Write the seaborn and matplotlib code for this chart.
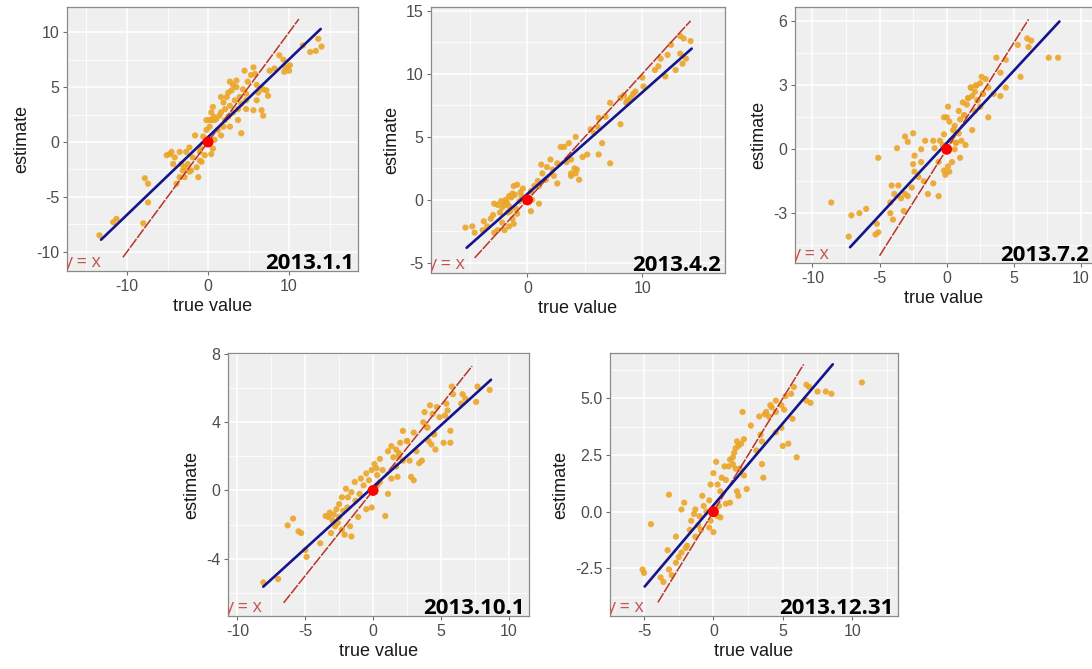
import matplotlib
matplotlib.use("Agg")
import matplotlib.pyplot as plt
import matplotlib.transforms as mtransforms
from matplotlib.ticker import MultipleLocator, FormatStrFormatter
import numpy as np
import pandas as pd
import seaborn as sns

# ---------------------------------------------------------------- data
dates = ["2013.1.1", "2013.4.2", "2013.7.2", "2013.10.1", "2013.12.31"]

true_0101 = [-13.4, -11.7, -11.3, -8.0, -7.8, -7.4, -7.4, -5.1, -4.7, -4.5, -4.3, -4.1, -3.9, -3.5,
             -3.5, -3.3, -3.1, -2.9, -2.9, -2.7, -2.5, -2.3, -2.3, -2.1, -1.9, -1.6, -1.4, -1.2,
             -1.0, -1.0, -1.0, -0.8, -0.6, -0.4, -0.2, -0.2, 0.2, 0.2, 0.4, 0.4, 0.4, 0.6, 0.6,
             0.7, 0.8, 0.8, 1.0, 1.2, 1.4, 1.6, 1.6, 1.6, 1.9, 1.9, 2.1, 2.1, 2.3, 2.5, 2.5, 2.7,
             2.7, 2.7, 2.9, 3.1, 3.1, 3.3, 3.5, 3.5, 3.7, 3.7, 3.9, 4.1, 4.1, 4.3, 4.5, 4.7, 4.7,
             4.7, 4.9, 5.3, 5.6, 5.6, 5.8, 6.0, 6.0, 6.2, 6.6, 6.8, 6.8, 7.2, 7.4, 7.6, 8.2, 8.8,
             9.3, 9.4, 9.6, 10.0, 10.1, 11.7, 12.6, 13.3, 13.6, 14.0]
est_0101 = [-8.5, -7.3, -7.0, -7.4, -3.3, -3.8, -5.5, -1.2, -1.1, -0.9, -2.0, -1.4, -3.8, -0.9,
            -3.2, -2.0, -2.6, -3.2, -2.3, -0.9, -2.0, -0.5, -2.7, -2.6, -1.4, 0.6, -2.3, -3.2,
            -0.5, -1.7, -0.9, -1.8, 0.5, -1.2, 1.1, 2.0, 1.4, 2.0, 2.7, -1.1, 2.0, 3.2, -0.6,
            2.3, 2.0, 0.2, 2.1, 1.1, 2.4, 2.7, 0.6, 4.1, 3.6, 1.4, 3.0, 2.0, 4.1, 2.3, 4.5, 5.5,
            1.4, 3.3, 4.7, 5.2, 2.7, 3.8, 5.6, 5.0, 3.0, 2.0, 4.1, 0.8, 3.5, 4.8, 6.5, 3.0, 4.4,
            3.8, 5.5, 6.1, 6.8, 2.9, 6.2, 5.2, 3.8, 4.5, 2.9, 4.8, 2.4, 4.7, 4.2, 6.5, 6.7, 7.9,
            7.5, 6.4, 6.8, 6.5, 7.0, 8.8, 8.2, 8.3, 9.4, 8.7]

true_0402 = [-5.4, -4.8, -4.6, -3.9, -3.8, -3.5, -3.2, -3.0, -2.9, -2.9, -2.6, -2.6, -2.4, -2.3,
             -2.2, -2.2, -2.0, -2.0, -1.9, -1.8, -1.7, -1.6, -1.6, -1.6, -1.5, -1.4, -1.3, -1.3,
             -1.2, -1.2, -1.1, -1.0, -0.9, -0.9, -0.7, -0.6, -0.5, -0.4, 0.3, 0.3, 0.4, 0.6, 0.9,
             1.0, 1.0, 1.2, 1.3, 1.6, 1.7, 2.0, 2.2, 2.3, 2.6, 2.6, 2.9, 3.2, 3.4, 3.6, 3.8, 3.8,
             3.8, 4.1, 4.2, 4.2, 4.3, 4.5, 4.8, 5.2, 5.5, 5.8, 6.1, 6.2, 6.2, 6.5, 6.8, 7.2, 7.2,
             8.1, 8.1, 8.4, 8.6, 8.7, 9.0, 9.2, 9.4, 10.0, 10.1, 11.1, 11.4, 11.6, 12.0, 12.2,
             12.5, 12.9, 13.3, 13.3, 13.5, 13.6, 13.8, 14.2]
est_0402 = [-2.2, -2.1, -2.6, -2.4, -1.7, -2.1, -1.5, -1.2, -2.6, -0.3, -2.4, -0.4, -1.0, -0.1,
            -0.6, -1.8, -2.4, -0.4, 0.0, -0.2, -1.0, -2.1, 0.3, -0.5, -0.9, 0.2, 0.5, -1.5,
            1.1, -1.9, 0.4, -0.7, 1.2, -1.1, -0.1, 0.6, 0.3, 0.9, 0.7, -0.9, 0.0, 1.1, 1.5,
            1.1, -0.3, 2.8, 2.1, 1.6, 2.6, 3.2, 2.4, 1.9, 2.9, 1.3, 4.2, 4.2, 3.0, 4.5, 3.2, 2.1,
            1.9, 2.5, 5.0, 2.1, 2.4, 1.6, 3.4, 3.6, 5.6, 5.3, 5.8, 6.5, 3.6, 4.5, 6.6, 7.7, 2.9,
            8.1, 6.0, 8.3, 7.7, 7.9, 8.1, 8.4, 8.6, 9.7, 9.0, 10.3, 10.6, 11.2, 9.8, 11.5,
            12.3, 10.3, 13.0, 11.6, 10.8, 12.8, 11.2, 12.6]

true_0702 = [-8.6, -7.3, -7.1, -6.5, -6.0, -5.3, -5.2, -5.1, -5.1, -4.2, -4.2, -4.1, -4.0, -3.9,
             -3.7, -3.6, -3.4, -3.2, -3.1, -3.1, -2.9, -2.9, -2.6, -2.5, -2.5, -2.4, -2.4, -2.1,
             -1.9, -1.9, -1.7, -1.6, -1.4, -1.0, -1.0, -0.9, -0.6, -0.6, -0.5, -0.3, -0.2, -0.2,
             -0.2, -0.1, 0.0, 0.1, 0.1, 0.2, 0.2, 0.3, 0.4, 0.5, 0.5, 0.6, 0.6, 0.7, 0.7, 0.9,
             0.9, 1.0, 1.0, 1.1, 1.2, 1.3, 1.3, 1.4, 1.5, 1.6, 1.6, 1.8, 1.8, 1.9, 1.9, 2.1, 2.1,
             2.2, 2.2, 2.3, 2.3, 2.5, 2.5, 2.6, 2.7, 2.7, 2.9, 3.1, 3.1, 3.5, 3.7, 4.0, 4.0, 4.4,
             4.4, 5.3, 5.5, 6.0, 6.1, 6.3, 7.6, 8.3]
est_0702 = [-2.5, -4.1, -3.1, -3.0, -2.8, -4.0, -3.5, -3.9, -0.4, -2.5, -3.0, -1.7, -3.3, -2.1,
            0.05, -1.7, -2.3, -2.9, 0.6, -2.1, 0.35, -2.2, -1.8, 0.75, -0.7, -0.3, -1.05, -1.3,
            0.0, -0.6, -1.5, 0.4, -2.1, 0.4, -1.6, 0.05, -0.6, -2.2, 0.4, 0.2, 0.7, 1.5, -1.0,
            -1.2, 1.5, 2.0, -0.8, 1.3, -1.05, 0.4, -0.6, 0.9, 0.9, 1.1, 0.0, 0.3, 0.3, 0.75,
            1.8, -0.4, 1.4, 0.4, 2.2, 1.6, 1.6, 0.2, 2.1, 2.4, 2.4, 2.9, 2.9, 2.5, 0.9, 2.7, 1.8,
            3.0, 3.0, 2.3, 2.3, 3.1, 2.0, 3.4, 2.6, 2.6, 3.3, 2.9, 1.5, 2.6, 4.3, 2.5, 3.6, 4.2,
            2.9, 4.9, 3.4, 5.2, 4.8, 5.1, 4.3, 4.3]

true_1001 = [-8.1, -7.0, -6.3, -5.9, -5.5, -5.3, -5.0, -4.9, -3.9, -3.5, -3.3, -3.2, -3.1, -3.0,
             -2.9, -2.8, -2.7, -2.6, -2.5, -2.5, -2.3, -2.3, -2.2, -2.1, -2.0, -1.9, -1.85, -1.7,
             -1.6, -1.6, -1.35, -1.3, -1.1, -1.0, -0.9, -0.7, -0.5, -0.5, -0.3, -0.1, -0.1, 0.1,
             0.25, 0.3, 0.3, 0.5, 0.5, 0.7, 0.9, 1.1, 1.1, 1.35, 1.35, 1.5, 1.7, 1.7, 1.8, 1.9,
             1.9, 2.0, 2.2, 2.2, 2.5, 2.5, 2.7, 2.8, 3.0, 3.0, 3.2, 3.4, 3.6, 3.7, 3.8, 4.0, 4.0,
             4.1, 4.2, 4.3, 4.4, 4.5, 4.5, 4.6, 4.7, 4.9, 5.2, 5.3, 5.4, 5.5, 5.7, 5.7, 5.8, 5.9,
             6.5, 6.6, 6.8, 7.6, 7.7, 8.6]
est_1001 = [-5.4, -5.2, -2.05, -1.65, -2.4, -2.5, -3.5, -3.9, -3.1, -1.5, -1.55, -1.3, -2.5, -1.75,
            -1.4, -2.1, -1.1, -1.9, -0.8, -1.55, -0.4, -2.3, -1.2, -2.6, 0.1, -1.0, -0.4, -2.1,
            -0.1, -2.7, 0.5, -0.6, -1.55, -0.2, 0.7, 0.3, 1.0, -1.1, 0.6, 1.2, -1.0, 1.55,
            1.3, 0.9, 0.3, 1.85, 0.5, 1.2, -1.5, 2.3, -0.2, 2.6, 0.7, 1.95, 2.4, 1.4, 0.8, 2.0,
            2.2, 2.8, 3.5, 1.75, 2.9, 2.9, 1.75, 0.8, 3.4, 0.6, 2.3, 1.6, 1.75, 4.0, 4.6, 3.7,
            3.7, 2.9, 5.0, 2.7, 4.5, 3.3, 3.3, 2.4, 4.9, 4.3, 2.8, 4.4, 5.1, 4.7, 3.5, 2.8, 6.1,
            5.65, 5.1, 5.65, 5.4, 5.2, 6.1, 5.9]

true_1231 = [-5.1, -5.0, -4.5, -3.8, -3.6, -3.3, -3.2, -3.2, -3.0, -2.7, -2.7, -2.5, -2.3, -2.3,
             -2.1, -2.0, -1.9, -1.7, -1.6, -1.4, -1.3, -1.3, -1.1, -1.0, -0.9, -0.8, -0.7, -0.5,
             -0.3, -0.3, -0.2, -0.2, 0.0, 0.0, 0.2, 0.3, 0.3, 0.4, 0.5, 0.5, 0.6, 0.8, 0.9, 0.9,
             1.1, 1.2, 1.2, 1.4, 1.4, 1.5, 1.6, 1.6, 1.7, 1.7, 1.8, 1.8, 1.9, 2.0, 2.1, 2.2, 2.2,
             2.4, 2.7, 3.1, 3.3, 3.4, 3.5, 3.5, 3.6, 3.7, 3.8, 4.0, 4.1, 4.2, 4.5, 4.5, 4.5, 4.9,
             4.9, 5.0, 5.1, 5.2, 5.4, 5.6, 5.7, 5.8, 6.0, 6.7, 6.7, 6.9, 7.0, 7.5, 8.1, 8.5, 10.7]
est_1231 = [-2.55, -2.7, -0.55, -2.9, -3.1, -1.7, -2.55, 0.75, -2.8, -1.1, -2.25, -2.0, 0.1, -1.8,
            0.4, -1.6, -1.5, -0.8, -0.4, -0.1, 0.1, -1.1, -0.6, -0.2, -0.8, 0.7, 0.25, 0.0, 0.5,
            -0.7, 1.2, -0.4, 1.7, -0.9, 2.2, 1.2, -0.2, 0.25, 0.9, -0.25, 1.5, 2.0, 1.4, 0.35,
            2.0, 2.3, 0.4, 2.1, 2.4, 2.6, 1.9, 2.8, 3.1, 0.9, 2.9, 0.7, 1.9, 3.0, 4.4, 3.2, 1.6,
            1.0, 3.8, 2.7, 4.2, 3.4, 3.1, 2.1, 1.5, 4.3, 4.4, 4.2, 4.7, 4.6, 4.9, 4.4, 3.5, 4.7,
            3.7, 2.9, 4.5, 5.1, 3.0, 5.2, 4.1, 5.5, 2.4, 4.9, 5.6, 5.5, 4.8, 5.3, 5.3, 5.2, 5.7]

# fitted trend (blue) endpoints and extent of the y = x reference (red)
fit_x_0101, fit_y_0101 = [-13.2, 13.9], [-8.9, 10.3]
fit_x_0402, fit_y_0402 = [-5.3, 14.3], [-3.8, 12.0]
fit_x_0702, fit_y_0702 = [-7.2, 8.4], [-4.6, 6.0]
fit_x_1001, fit_y_1001 = [-8.1, 8.7], [-5.65, 6.5]
fit_x_1231, fit_y_1231 = [-4.95, 8.6], [-3.3, 6.5]

ident_0101 = [-10.5, 11.2]
ident_0402 = [-4.6, 14.2]
ident_0702 = [-5.0, 6.1]
ident_1001 = [-6.6, 7.3]
ident_1231 = [-4.0, 6.5]

# ---------------------------------------------------------------- style
sns.set_style("white")
plt.rcParams["font.family"] = ["Liberation Sans", "DejaVu Sans"]
plt.rcParams["axes.unicode_minus"] = False

W, H = 1092, 669
fig = plt.figure(figsize=(W / 100, H / 100), dpi=100)

POINT = "#EBA527"
BLUE = "#14148C"
RED = "#B8342A"
LABEL_RED = "#C8554F"
PANEL_BG = "#EFEFEF"
TICK_GREY = "#4D4D4D"


def px_axes(left, top, right, bottom):
    return fig.add_axes([left / W, 1 - bottom / H, (right - left) / W, (bottom - top) / H])


panels = [
    dict(rect=(67, 7, 358, 271), xlim=(-17.4, 18.5), ylim=(-11.75, 12.3), xs=10, ys=5, fmt="%d",
         x=true_0101, y=est_0101, fx=fit_x_0101, fy=fit_y_0101, ident=ident_0101, date=dates[0]),
    dict(rect=(431, 7, 725, 273), xlim=(-8.4, 17.2), ylim=(-5.8, 15.3), xs=10, ys=5, fmt="%d",
         x=true_0402, y=est_0402, fx=fit_x_0402, fy=fit_y_0402, ident=ident_0402, date=dates[1]),
    dict(rect=(795, 7, 1093, 263), xlim=(-11.3, 10.9), ylim=(-5.34, 6.68), xs=5, ys=3, fmt="%d",
         x=true_0702, y=est_0702, fx=fit_x_0702, fy=fit_y_0702, ident=ident_0702, date=dates[2]),
    dict(rect=(228, 353, 529, 616), xlim=(-10.7, 11.5), ylim=(-7.37, 8.07), xs=5, ys=4, fmt="%d",
         x=true_1001, y=est_1001, fx=fit_x_1001, fy=fit_y_1001, ident=ident_1001, date=dates[3]),
    dict(rect=(610, 353, 898, 616), xlim=(-7.45, 13.3), ylim=(-4.6, 7.0), xs=5, ys=2.5, fmt="%.1f",
         x=true_1231, y=est_1231, fx=fit_x_1231, fy=fit_y_1231, ident=ident_1231, date=dates[4]),
]

for p in panels:
    ax = px_axes(*p["rect"])
    ax.set_facecolor(PANEL_BG)

    df = pd.DataFrame({"true value": p["x"], "estimate": p["y"]})
    sns.scatterplot(data=df, x="true value", y="estimate", ax=ax, color=POINT, s=20,
                    edgecolor="none", alpha=0.9, zorder=3, legend=False)

    ident = pd.DataFrame({"x": p["ident"], "y": p["ident"]})
    sns.lineplot(data=ident, x="x", y="y", ax=ax, color=RED, lw=1.1, zorder=4,
                 linestyle=(0, (7, 0.9)), estimator=None, legend=False)

    fit = pd.DataFrame({"x": p["fx"], "y": p["fy"]})
    sns.lineplot(data=fit, x="x", y="y", ax=ax, color=BLUE, lw=1.9, zorder=5,
                 estimator=None, legend=False)

    sns.scatterplot(x=[0], y=[0], ax=ax, color="red", s=62, edgecolor="none", zorder=6,
                    legend=False)

    ax.set_xlim(*p["xlim"])
    ax.set_ylim(*p["ylim"])
    ax.xaxis.set_major_locator(MultipleLocator(p["xs"]))
    ax.xaxis.set_minor_locator(MultipleLocator(p["xs"] / 2))
    ax.yaxis.set_major_locator(MultipleLocator(p["ys"]))
    ax.yaxis.set_minor_locator(MultipleLocator(p["ys"] / 2))
    ax.yaxis.set_major_formatter(FormatStrFormatter(p["fmt"]))
    ax.xaxis.set_major_formatter(FormatStrFormatter("%d"))

    ax.grid(which="major", color="white", lw=1.1, zorder=0)
    ax.grid(which="minor", color="white", lw=0.55, zorder=0)
    ax.set_axisbelow(True)
    for s in ax.spines.values():
        s.set_color("#8A8A8A")
        s.set_linewidth(0.9)
    ax.tick_params(which="major", length=3, width=0.8, color="#6E6E6E",
                   labelcolor=TICK_GREY, labelsize=11.5, pad=2.5,
                   bottom=True, left=True)
    ax.tick_params(which="minor", length=0)

    ax.set_xlabel("true value", fontsize=13, color="#1A1A1A", labelpad=3)
    ax.set_ylabel("estimate", fontsize=13, color="#1A1A1A", labelpad=4)

    # reference label, its first letter cut by the panel's left edge
    tr = mtransforms.offset_copy(ax.transAxes, fig=fig, x=-4, y=9, units="dots")
    ax.text(0, 0, "y = x", transform=tr, ha="left", va="center", fontsize=13,
            color=LABEL_RED, family=["Open Sans", "DejaVu Sans"], clip_on=True, zorder=7)

    # date stamp
    tr2 = mtransforms.offset_copy(ax.transAxes, fig=fig, x=-4, y=2, units="dots")
    ax.text(1, 0, p["date"], transform=tr2, ha="right", va="baseline", fontsize=16,
            fontweight="bold", color="black", family=["Open Sans", "DejaVu Sans"], zorder=8)

fig.savefig("out.png", dpi=100)
